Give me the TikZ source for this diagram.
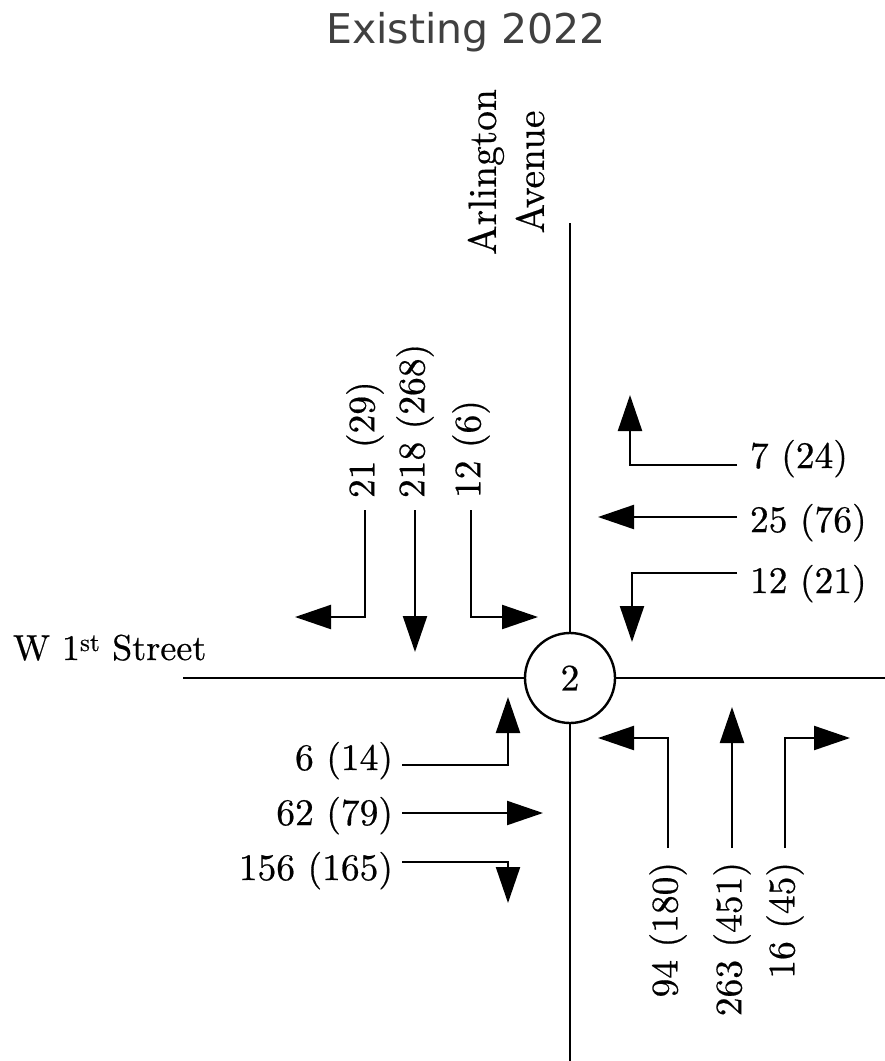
\documentclass[tikz,border=0pt]{standalone}
\usepackage{fontspec}
\usetikzlibrary{arrows.meta}
\newfontfamily\titlefont{DejaVu Sans}
\newfontfamily\numfont{lmroman10-regular.otf}[FakeBold=0.5]
\definecolor{titlegray}{HTML}{404040}
\tikzset{
  road/.style={line width=2.4pt},
  mv/.style={line width=2.2pt, -{Triangle[length=36pt,width=24pt]}},
  lab/.style={inner sep=0pt, outer sep=0pt, font=\numfont\fontsize{37.5}{45}\selectfont},
  ttl/.style={inner sep=0pt, font=\titlefont\fontsize{41}{50}\selectfont, text=titlegray},
  isec/.style={circle, draw, line width=2.4pt, minimum size=90pt, inner sep=0pt, fill=white, font=\numfont\fontsize{37.5}{45}\selectfont}
}
\begin{document}
\begin{tikzpicture}[x=1pt,y=-1pt]
\useasboundingbox (0,0) rectangle (885,1061);
\fill[white] (0,0) rectangle (885,1061);

% title
\node[ttl, anchor=base] (title) at (466,43) {Existing 2022};

% street names
\node[lab, rotate=90, align=center, font=\numfont\fontsize{39.5}{48}\selectfont] (arl) at (506,172) {Arlington\\Avenue};
\node[lab, anchor=base west, font=\numfont\fontsize{36}{44}\selectfont] (w1st) at (13,660) {W 1\textsuperscript{st} Street};

% intersection
\coordinate (rN) at (570,223);
\coordinate (rS) at (570,1061);
\coordinate (rW) at (183,678);
\coordinate (rE) at (885,678);
\node[isec] (c) at (570,678) {2};
\draw[road] (rN) -- (c.north);
\draw[road] (c.south) -- (rS);
\draw[road] (rW) -- (c.west);
\draw[road] (c.east) -- (rE);

% southbound (top)
\node[lab, rotate=90, anchor=west] (n21) at (365,498) {21 (29)};
\node[lab, rotate=90, anchor=west] (n218) at (415,498) {218 (268)};
\node[lab, rotate=90, anchor=west] (n12s) at (471,498) {12 (6)};
\coordinate (t21) at (295,617);
\coordinate (t218) at (415,652);
\coordinate (t12s) at (538,617);
\draw[mv] ([yshift=-12pt]n21.west) |- (t21);
\draw[mv] ([yshift=-12pt]n218.west) -- (t218);
\draw[mv] ([yshift=-12pt]n12s.west) |- (t12s);

% westbound (right)
\node[lab, anchor=base west] (n7) at (750,468) {7 (24)};
\node[lab, anchor=base west] (n25) at (750,532) {25 (76)};
\node[lab, anchor=base west] (n12e) at (750,593) {12 (21)};
\coordinate (t7) at (630,395);
\coordinate (t25) at (598,517);
\coordinate (t12e) at (632,642);
\draw[mv] ([shift={(-13pt,3pt)}]n7.base west) -| (t7);
\draw[mv] ([shift={(-13pt,15pt)}]n25.base west) -- (t25);
\draw[mv] ([shift={(-13pt,20pt)}]n12e.base west) -| (t12e);

% eastbound (left)
\node[lab, anchor=base east] (n6) at (393,770) {6 (14)};
\node[lab, anchor=base east] (n62) at (393,825) {62 (79)};
\node[lab, anchor=base east] (n156) at (393,880) {156 (165)};
\coordinate (t6) at (508,697);
\coordinate (t62) at (543,813);
\coordinate (t156) at (508,903);
\draw[mv] ([shift={(9pt,5pt)}]n6.base east) -| (t6);
\draw[mv] ([shift={(9pt,12pt)}]n62.base east) -- (t62);
\draw[mv] ([shift={(9pt,18pt)}]n156.base east) -| (t156);

% northbound (bottom)
\node[lab, rotate=90, anchor=east] (n94) at (668,862) {94 (180)};
\node[lab, rotate=90, anchor=east] (n263) at (732,862) {263 (451)};
\node[lab, rotate=90, anchor=east] (n16) at (785,862) {16 (45)};
\coordinate (t94) at (598,738);
\coordinate (t263) at (732,707);
\coordinate (t16) at (850,738);
\draw[mv] ([yshift=14pt]n94.east) |- (t94);
\draw[mv] ([yshift=14pt]n263.east) -- (t263);
\draw[mv] ([yshift=14pt]n16.east) |- (t16);
\end{tikzpicture}
\end{document}
